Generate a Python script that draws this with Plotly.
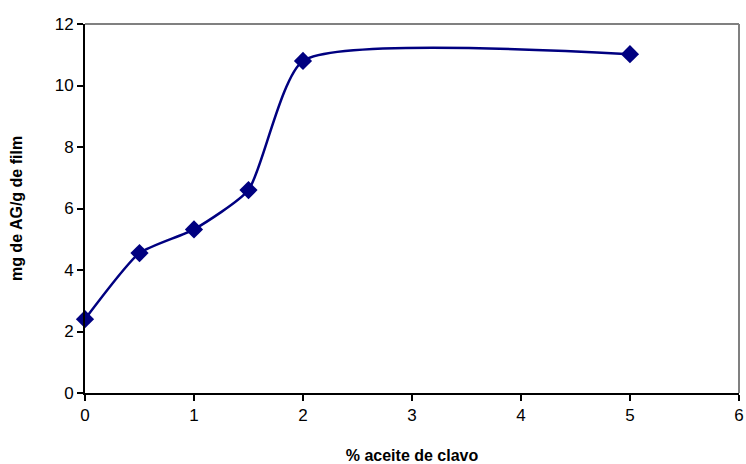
import plotly.graph_objects as go

aceite = [0, 0.5, 1, 1.5, 2, 5]
mg_ag = [2.4, 4.55, 5.32, 6.6, 10.8, 11.02]

x_ticks = [0, 1, 2, 3, 4, 5, 6]
y_ticks = [0, 2, 4, 6, 8, 10, 12]

fig = go.Figure()
fig.add_trace(go.Scatter(
    x=aceite, y=mg_ag, mode="lines+markers",
    line=dict(color="#000080", width=2.5, shape="spline", smoothing=0.55),
    marker=dict(symbol="diamond", size=14, color="#000080"),
    cliponaxis=False, showlegend=False,
))

font = "Liberation Sans, Arial, sans-serif"
fig.update_layout(
    width=746, height=464,
    margin=dict(l=85, r=7, t=24, b=71),
    paper_bgcolor="white", plot_bgcolor="white",
    font=dict(family=font, color="black", size=17),
    xaxis=dict(range=[0, 6.0005], tickvals=x_ticks, ticks="outside", ticklen=6,
               tickwidth=1.5, tickcolor="black", showline=True, linecolor="black",
               linewidth=2, showgrid=False, zeroline=False, tickfont=dict(size=17),
               ticklabeloverflow="allow", automargin=False,
               title=dict(text="<b>% aceite de clavo</b>", font=dict(size=16), standoff=32)),
    yaxis=dict(range=[0, 12.0005], tickvals=y_ticks, ticks="outside", ticklen=6,
               tickwidth=1.5, tickcolor="black", showline=True, linecolor="black",
               linewidth=2, showgrid=False, zeroline=False, tickfont=dict(size=17),
               automargin=False,
               title=dict(text="<b>mg de AG/g de film</b>", font=dict(size=16), standoff=28)),
    shapes=[
        dict(type="line", xref="paper", yref="paper", x0=0, x1=1, y0=1, y1=1,
             line=dict(color="#808080", width=2), layer="above"),
        dict(type="line", xref="paper", yref="paper", x0=1, x1=1, y0=0, y1=1,
             line=dict(color="#808080", width=2), layer="above"),
    ],
)

fig.write_html(
    "out.html",
    config={"displayModeBar": False},
    post_script="document.body.style.margin='0';document.body.style.overflow='hidden';",
)
